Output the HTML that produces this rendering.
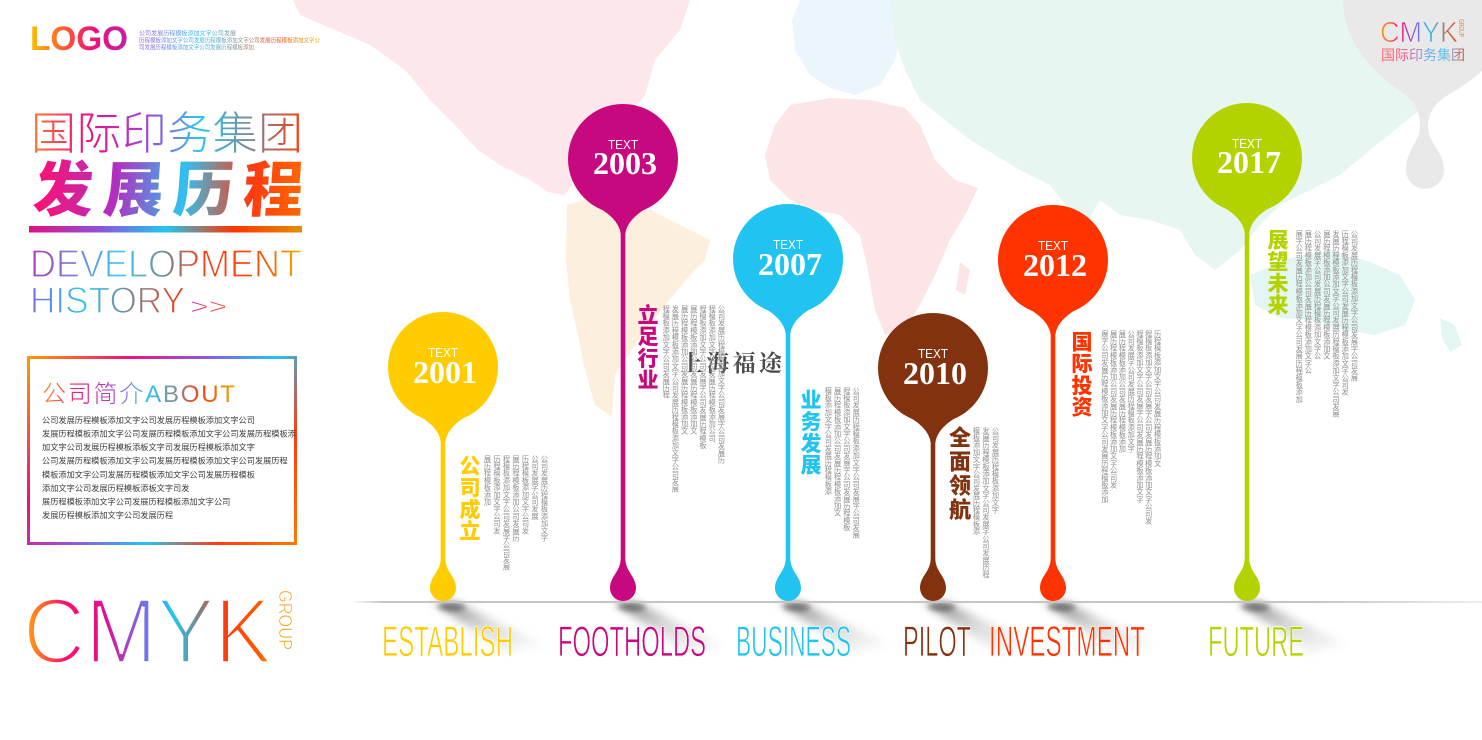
<!DOCTYPE html>
<html><head><meta charset="utf-8">
<style>
html,body{margin:0;padding:0;background:#fff;}
body{width:1482px;height:740px;position:relative;overflow:hidden;font-family:"Liberation Sans","Noto Sans CJK SC",sans-serif;}
svg{position:absolute;left:0;top:0;}
.vt{position:absolute;writing-mode:vertical-rl;font-family:"Liberation Sans","Noto Sans CJK SC",sans-serif;font-size:7.2px;line-height:9.3px;color:#8d8d8d;white-space:nowrap;}
.vh{position:absolute;writing-mode:vertical-rl;font-family:"Noto Sans CJK SC",sans-serif;font-weight:900;font-size:21px;line-height:22px;letter-spacing:0.7px;white-space:nowrap;}
</style></head><body>
<svg width="1482" height="740" viewBox="0 0 1482 740" xmlns="http://www.w3.org/2000/svg">
<defs>
<filter id="blur" x="-50%" y="-50%" width="200%" height="200%"><feGaussianBlur stdDeviation="4.5"/></filter>
<filter id="blur2" x="-50%" y="-50%" width="200%" height="200%"><feGaussianBlur stdDeviation="2.5"/></filter>
<linearGradient id="shg" x1="0" y1="0" x2="1" y2="1"><stop offset="0" stop-color="#000" stop-opacity="0.5"/><stop offset="0.45" stop-color="#000" stop-opacity="0.15"/><stop offset="1" stop-color="#000" stop-opacity="0"/></linearGradient>
<linearGradient id="lineg" gradientUnits="userSpaceOnUse" x1="350" y1="0" x2="1482" y2="0"><stop offset="0" stop-color="#ccc" stop-opacity="0"/><stop offset="0.03" stop-color="#c4c4c4"/><stop offset="0.85" stop-color="#c4c4c4"/><stop offset="1" stop-color="#eee"/></linearGradient>
<linearGradient id="gLogo" gradientUnits="userSpaceOnUse" x1="30" y1="0" x2="128" y2="0"><stop offset="0" stop-color="#ffc000"/><stop offset="0.35" stop-color="#ff5a30"/><stop offset="0.65" stop-color="#f0107a"/><stop offset="1" stop-color="#c020a8"/></linearGradient>
<linearGradient id="gLogoTxt" gradientUnits="userSpaceOnUse" x1="139" y1="0" x2="320" y2="0"><stop offset="0" stop-color="#a060e0"/><stop offset="0.35" stop-color="#30c0f0"/><stop offset="0.55" stop-color="#909090"/><stop offset="0.75" stop-color="#ff5020"/><stop offset="1" stop-color="#e0b000"/></linearGradient>
<linearGradient id="gT1" gradientUnits="userSpaceOnUse" x1="31" y1="0" x2="303" y2="0"><stop offset="0" stop-color="#ff7b2a"/><stop offset="0.2" stop-color="#f0107a"/><stop offset="0.42" stop-color="#a640d8"/><stop offset="0.62" stop-color="#2ac6f2"/><stop offset="0.8" stop-color="#7a8d9a"/><stop offset="1" stop-color="#ff3a10"/></linearGradient>
<linearGradient id="gT2" gradientUnits="userSpaceOnUse" x1="0" y1="0" x2="272" y2="0"><stop offset="0" stop-color="#ff1070"/><stop offset="0.3" stop-color="#b030c0"/><stop offset="0.55" stop-color="#30c0f0"/><stop offset="0.8" stop-color="#ff3a10"/><stop offset="1" stop-color="#ff6a00"/></linearGradient>
<linearGradient id="gBar" gradientUnits="userSpaceOnUse" x1="29" y1="0" x2="302" y2="0"><stop offset="0" stop-color="#e0107f"/><stop offset="0.25" stop-color="#9050d8"/><stop offset="0.5" stop-color="#20c8f0"/><stop offset="0.75" stop-color="#ff3300"/><stop offset="1" stop-color="#e09000"/></linearGradient>
<linearGradient id="gDev" gradientUnits="userSpaceOnUse" x1="30" y1="0" x2="302" y2="0"><stop offset="0" stop-color="#b03ab8"/><stop offset="0.33" stop-color="#3ec8f0"/><stop offset="0.5" stop-color="#7a8a90"/><stop offset="0.65" stop-color="#ff3a10"/><stop offset="0.85" stop-color="#ff4a00"/><stop offset="1" stop-color="#e8b800"/></linearGradient>
<linearGradient id="gHis" gradientUnits="userSpaceOnUse" x1="30" y1="0" x2="185" y2="0"><stop offset="0" stop-color="#7a6ae8"/><stop offset="0.35" stop-color="#2ac6f0"/><stop offset="0.7" stop-color="#8a7a80"/><stop offset="1" stop-color="#ff3010"/></linearGradient>
<linearGradient id="gArr" gradientUnits="userSpaceOnUse" x1="190" y1="0" x2="228" y2="0"><stop offset="0" stop-color="#e02090"/><stop offset="1" stop-color="#ff5020"/></linearGradient>
<linearGradient id="gBox" gradientUnits="userSpaceOnUse" x1="28" y1="357" x2="297" y2="545"><stop offset="0" stop-color="#ff9a00"/><stop offset="0.25" stop-color="#f0107a"/><stop offset="0.45" stop-color="#8a5ce0"/><stop offset="0.62" stop-color="#22c4f0"/><stop offset="0.8" stop-color="#ff3a10"/><stop offset="1" stop-color="#ff7a00"/></linearGradient>
<linearGradient id="gAbout" gradientUnits="userSpaceOnUse" x1="42" y1="0" x2="235" y2="0"><stop offset="0" stop-color="#ff8a20"/><stop offset="0.2" stop-color="#f0107a"/><stop offset="0.4" stop-color="#a050d8"/><stop offset="0.55" stop-color="#2ac6f0"/><stop offset="0.7" stop-color="#8a8a90"/><stop offset="0.82" stop-color="#ff3a10"/><stop offset="1" stop-color="#e0b000"/></linearGradient>
<linearGradient id="gCMYK" gradientUnits="userSpaceOnUse" x1="23" y1="0" x2="272" y2="0"><stop offset="0" stop-color="#ffb000"/><stop offset="0.17" stop-color="#ff1070"/><stop offset="0.33" stop-color="#e01090"/><stop offset="0.48" stop-color="#7a6ae8"/><stop offset="0.6" stop-color="#22c8f2"/><stop offset="0.72" stop-color="#8a7a7a"/><stop offset="0.8" stop-color="#ff3a10"/><stop offset="0.95" stop-color="#ff5a00"/><stop offset="1" stop-color="#e8a000"/></linearGradient>
<linearGradient id="gGroup" x1="0" y1="0" x2="1" y2="0"><stop offset="0" stop-color="#ff9a20"/><stop offset="1" stop-color="#e8a000"/></linearGradient>
<linearGradient id="gTR" gradientUnits="userSpaceOnUse" x1="1380" y1="0" x2="1458" y2="0"><stop offset="0" stop-color="#ffa000"/><stop offset="0.25" stop-color="#ff1070"/><stop offset="0.45" stop-color="#8a5ce0"/><stop offset="0.62" stop-color="#22c4f0"/><stop offset="0.78" stop-color="#8a8a8a"/><stop offset="1" stop-color="#ff3a10"/></linearGradient>
<linearGradient id="gTR2" gradientUnits="userSpaceOnUse" x1="1381" y1="0" x2="1465" y2="0"><stop offset="0" stop-color="#ff6a6a"/><stop offset="0.3" stop-color="#f06090"/><stop offset="0.55" stop-color="#6aa8f0"/><stop offset="0.75" stop-color="#60c8f0"/><stop offset="1" stop-color="#e05040"/></linearGradient>
</defs>

<!-- world map (faint) -->
<g>
<path fill="#fce7ea" d="M293,0 L690,0 L680,30 L655,60 L645,95 L625,120 L595,140 L580,160 L572,185 L565,195 L548,192 L530,180 L500,165 L478,150 L455,125 L430,100 L405,70 L370,45 L335,30 L300,15 Z"/>
<path fill="#fdefde" d="M567,205 L600,195 L640,205 L680,225 L710,240 L705,260 L690,275 L665,305 L640,338 L615,375 L612,417 L595,405 L585,370 L578,335 L570,300 L566,260 Z"/>
<path fill="#fde4e7" d="M790,105 L830,98 L870,100 L905,108 L920,125 L935,160 L955,180 L978,188 L965,215 L950,240 L935,275 L920,305 L905,330 L885,335 L875,310 L868,270 L860,235 L840,215 L815,210 L790,200 L770,180 L765,155 L775,125 Z"/>
<path fill="#fde4e7" d="M960,262 L970,270 L965,295 L956,290 Z"/>
<path fill="#ebf6fc" d="M800,0 L890,0 L905,20 L895,60 L880,85 L855,95 L830,88 L810,75 L795,50 L792,20 Z"/>
<path fill="#e7f6f0" d="M890,0 L1482,0 L1482,60 L1440,90 L1420,110 L1395,130 L1370,150 L1340,175 L1310,190 L1280,205 L1260,225 L1240,250 L1215,270 L1195,255 L1180,230 L1150,220 L1120,215 L1100,200 L1085,225 L1070,210 L1050,185 L1020,170 L995,155 L970,140 L945,120 L920,100 L905,70 L895,40 Z"/>
<path fill="#e4f6f4" d="M1250,275 L1290,258 L1330,250 L1370,262 L1400,275 L1415,300 L1405,325 L1375,335 L1345,330 L1310,320 L1280,318 L1255,305 Z"/>
<path fill="#e4f6f4" d="M1440,318 L1455,325 L1462,345 L1450,352 L1442,338 Z"/>
</g>

<!-- top right drop blob -->
<path fill="#e9e9e9" d="M1343,0 C1343,50 1385,80 1405,95 C1418,105 1420,115 1420,128 C1420,140 1406,150 1406,170 A19,19 0 0 0 1444,170 C1444,152 1428,142 1428,128 C1428,115 1432,105 1448,95 C1470,82 1482,72 1482,70 L1482,0 Z"/>
<text x="1380" y="42" font-family="Liberation Sans" font-size="29" textLength="78" lengthAdjust="spacingAndGlyphs" fill="url(#gTR)" stroke="#e9e9e9" stroke-width="0.8">CMYK</text>
<text transform="translate(1459,19) rotate(90)" font-family="Liberation Sans" font-size="7" textLength="18" lengthAdjust="spacingAndGlyphs" fill="#d09050">GROUP</text>
<text x="1381" y="60" font-family="Noto Sans CJK SC" font-size="14" textLength="84" fill="url(#gTR2)">国际印务集团</text>

<!-- logo -->
<text x="30" y="50" font-family="Liberation Sans" font-weight="bold" font-size="34" textLength="98" lengthAdjust="spacingAndGlyphs" fill="url(#gLogo)">LOGO</text>
<g font-family="Noto Sans CJK SC" font-size="6" fill="url(#gLogoTxt)">
<text x="139" y="35.5" textLength="97" lengthAdjust="spacingAndGlyphs">公司发展历程模板添加文字公司发展</text>
<text x="139" y="42.5" textLength="181" lengthAdjust="spacingAndGlyphs">历程模板添加文字公司发展历程模板添加文字公司发展历程模板添加文字公</text>
<text x="139" y="49.5" textLength="115" lengthAdjust="spacingAndGlyphs">司发展历程模板添加文字公司发展历程模板添加</text>
</g>

<!-- titles -->
<text x="31" y="149" font-family="Noto Sans CJK SC" font-weight="300" font-size="45" textLength="272" fill="url(#gT1)">国际印务集团</text>
<g transform="translate(32,211) skewX(-4)">
<text x="0" y="0" font-family="Noto Sans CJK SC" font-weight="900" font-size="60" textLength="270" fill="url(#gT2)">发展历程</text>
</g>
<rect x="29" y="226" width="273" height="6.5" fill="url(#gBar)"/>
<text x="30" y="277" font-family="Liberation Sans" font-size="39" textLength="272" lengthAdjust="spacingAndGlyphs" fill="url(#gDev)" stroke="#fff" stroke-width="1.2">DEVELOPMENT</text>
<text x="30" y="313" font-family="Liberation Sans" font-size="37" textLength="155" lengthAdjust="spacingAndGlyphs" fill="url(#gHis)" stroke="#fff" stroke-width="1.2">HISTORY</text>
<text x="190" y="314" font-family="Liberation Sans" font-size="22" textLength="37" lengthAdjust="spacingAndGlyphs" fill="url(#gArr)" stroke="#fff" stroke-width="0.6">&gt;&gt;</text>

<!-- about box -->
<rect x="28.5" y="357.5" width="267" height="186" fill="none" stroke="url(#gBox)" stroke-width="3"/>
<text x="42" y="402" font-family="Liberation Sans,Noto Sans CJK SC" font-weight="300" font-size="24" textLength="193" fill="url(#gAbout)">公司简介ABOUT</text>
<g font-family="Noto Sans CJK SC" font-size="8.2" fill="#3c3c3c">
<text x="42" y="423">公司发展历程模板添加文字公司发展历程模板添加文字公司</text>
<text x="42" y="436.6">发展历程模板添加文字公司发展历程模板添加文字公司发展历程模板添</text>
<text x="42" y="450.1">加文字公司发展历程模板添板文字司发展历程模板添加文字</text>
<text x="42" y="463.7">公司发展历程模板添加文字公司发展历程模板添加文字公司发展历程</text>
<text x="42" y="477.3">模板添加文字公司发展历程模板添加文字公司发展历程模板</text>
<text x="42" y="490.9">添加文字公司发展历程模板添板文字司发</text>
<text x="42" y="504.4">展历程模板添加文字公司发展历程模板添加文字公司</text>
<text x="42" y="518">发展历程模板添加文字公司发展历程</text>
</g>

<!-- big CMYK -->
<text x="23" y="663" font-family="Liberation Sans" font-size="93" textLength="249" lengthAdjust="spacingAndGlyphs" fill="url(#gCMYK)" stroke="#fff" stroke-width="3.5">CMYK</text>
<text transform="translate(279,590) rotate(90)" font-family="Liberation Sans" font-size="18" textLength="60" lengthAdjust="spacingAndGlyphs" fill="url(#gGroup)" stroke="#fff" stroke-width="0.6">GROUP</text>

<!-- baseline & shadows -->
<g>
<path d="M433,602 L455,602 L545,645 L505,652 Z" fill="url(#shg)" filter="url(#blur)"/>
<path d="M613,602 L635,602 L725,645 L685,652 Z" fill="url(#shg)" filter="url(#blur)"/>
<path d="M778,602 L800,602 L890,645 L850,652 Z" fill="url(#shg)" filter="url(#blur)"/>
<path d="M923,602 L945,602 L1035,645 L995,652 Z" fill="url(#shg)" filter="url(#blur)"/>
<path d="M1043,602 L1065,602 L1155,645 L1115,652 Z" fill="url(#shg)" filter="url(#blur)"/>
<path d="M1237,602 L1259,602 L1349,645 L1309,652 Z" fill="url(#shg)" filter="url(#blur)"/>
<g fill="#000" fill-opacity="0.3" filter="url(#blur2)">
<ellipse cx="452" cy="607" rx="14" ry="4.5"/>
<ellipse cx="632" cy="607" rx="14" ry="4.5"/>
<ellipse cx="797" cy="607" rx="14" ry="4.5"/>
<ellipse cx="942" cy="607" rx="14" ry="4.5"/>
<ellipse cx="1062" cy="607" rx="14" ry="4.5"/>
<ellipse cx="1256" cy="607" rx="14" ry="4.5"/>
</g>
<rect x="350" y="601" width="1132" height="2" fill="url(#lineg)"/>
</g>

<!-- pins -->
<g>
<g fill="#ffcc00">
<circle cx="443" cy="367" r="55"/>
<path d="M410,411 Q439,425 440.7,442 L440.7,558 C440.7,572 430,576 430,588 A13,13 0 0 0 456,588 C456,576 445.3,572 445.3,558 L445.3,442 Q447,425 476,411 Z"/>
</g>
<g fill="#c8087f">
<circle cx="623" cy="159" r="55"/>
<path d="M590,203 Q619,217 620.7,234 L620.7,558 C620.7,572 610,576 610,588 A13,13 0 0 0 636,588 C636,576 625.3,572 625.3,558 L625.3,234 Q627,217 656,203 Z"/>
</g>
<g fill="#21c4f0">
<circle cx="788" cy="259" r="55"/>
<path d="M755,303 Q784,317 785.7,334 L785.7,558 C785.7,572 775,576 775,588 A13,13 0 0 0 801,588 C801,576 790.3,572 790.3,558 L790.3,334 Q792,317 821,303 Z"/>
</g>
<g fill="#82320e">
<circle cx="933" cy="368" r="55"/>
<path d="M900,412 Q929,426 930.7,443 L930.7,558 C930.7,572 920,576 920,588 A13,13 0 0 0 946,588 C946,576 935.3,572 935.3,558 L935.3,443 Q937,426 966,412 Z"/>
</g>
<g fill="#ff3300">
<circle cx="1053" cy="260" r="55"/>
<path d="M1020,304 Q1049,318 1050.7,335 L1050.7,558 C1050.7,572 1040,576 1040,588 A13,13 0 0 0 1066,588 C1066,576 1055.3,572 1055.3,558 L1055.3,335 Q1057,318 1086,304 Z"/>
</g>
<g fill="#b4d200">
<circle cx="1247" cy="158" r="55"/>
<path d="M1214,202 Q1243,216 1244.7,233 L1244.7,558 C1244.7,572 1234,576 1234,588 A13,13 0 0 0 1260,588 C1260,576 1249.3,572 1249.3,558 L1249.3,233 Q1251,216 1280,202 Z"/>
</g>
</g>

<!-- circle texts -->
<g fill="#fff" text-anchor="middle">
<g font-family="Liberation Sans" font-size="13">
<text x="443" y="357" textLength="30" lengthAdjust="spacingAndGlyphs">TEXT</text>
<text x="623" y="149" textLength="30" lengthAdjust="spacingAndGlyphs">TEXT</text>
<text x="788" y="249" textLength="30" lengthAdjust="spacingAndGlyphs">TEXT</text>
<text x="933" y="358" textLength="30" lengthAdjust="spacingAndGlyphs">TEXT</text>
<text x="1053" y="250" textLength="30" lengthAdjust="spacingAndGlyphs">TEXT</text>
<text x="1247" y="148" textLength="30" lengthAdjust="spacingAndGlyphs">TEXT</text>
</g>
<g font-family="Liberation Serif" font-weight="bold" font-size="32">
<text x="445" y="383">2001</text>
<text x="625" y="174">2003</text>
<text x="790" y="275">2007</text>
<text x="935" y="384">2010</text>
<text x="1055" y="276">2012</text>
<text x="1249" y="173">2017</text>
</g>
</g>

<!-- watermark -->
<text x="680" y="371" font-family="Noto Serif CJK SC" font-weight="bold" font-size="23" textLength="102" fill="#4a4a4a">上海福途</text>

<!-- bottom labels -->
<g font-family="Liberation Sans" font-size="43" stroke="#fff" stroke-width="0.8">
<text x="382" y="656" textLength="131" lengthAdjust="spacingAndGlyphs" fill="#ffcc00">ESTABLISH</text>
<text x="558" y="656" textLength="148" lengthAdjust="spacingAndGlyphs" fill="#c8087f">FOOTHOLDS</text>
<text x="736" y="656" textLength="115" lengthAdjust="spacingAndGlyphs" fill="#21c4f0">BUSINESS</text>
<text x="903" y="656" textLength="68" lengthAdjust="spacingAndGlyphs" fill="#82320e">PILOT</text>
<text x="989" y="656" textLength="156" lengthAdjust="spacingAndGlyphs" fill="#ff3300">INVESTMENT</text>
<text x="1208" y="656" textLength="96" lengthAdjust="spacingAndGlyphs" fill="#b4d200">FUTURE</text>
</g>
</svg>

<!-- vertical titles -->
<div class="vh" style="left:459px;top:455px;color:#ffcc00;">公司成立</div>
<div class="vh" style="left:637px;top:304px;color:#c8087f;">立足行业</div>
<div class="vh" style="left:800px;top:389px;color:#21c4f0;">业务发展</div>
<div class="vh" style="left:948px;top:426px;color:#82320e;font-size:22px;line-height:23px;letter-spacing:2px;">全面领航</div>
<div class="vh" style="left:1071px;top:331px;color:#ff3300;">国际投资</div>
<div class="vh" style="left:1267px;top:229px;color:#b4d200;">展望未来</div>

<!-- vertical small texts -->
<div class="vt" style="left:483px;top:455px;line-height:9.5px;">公司发展历程模板添加文字<br>公司发展字公司发展<br>历程模板添加文字公司发<br>展历程模板添加公司发展历<br>程模板添加文字公司发展字公司发展<br>历程模板添加文字公司发<br>展历程模板添加</div>
<div class="vt" style="left:662px;top:305px;line-height:9.2px;">公司发展历程模板添加文字公司发展字公司发展历<br>程模板添加文字公司发展历程模板添加公司<br>程模板添加文字公司发展字公司发展历程模板<br>展历程模板添加公司发展历程模板添加文<br>展历程模板添加公司发展历程模板添加文<br>发展历程模板添加文字公司发展历程模板添加文字公司发展<br>程模板添加文字公司发展历程</div>
<div class="vt" style="left:824px;top:387px;line-height:9.3px;">公司发展历程模板添加文字公司发展字公司发展<br>程模板添加文字公司发展字公司发展历程模板<br>展历程模板添加公司发展历程模板添加文<br>模板添加文字公司发展历程模板添</div>
<div class="vt" style="left:972px;top:427px;line-height:9.5px;">公司发展历程模板添加文字<br>发展历程模板添加文字公司发展字公司发展历程<br>模板添加文字公司发展历程模板添</div>
<div class="vt" style="left:1100px;top:330px;line-height:8.8px;">历程模板添加文字公司发展历程模板添加文<br>程模板添加文字公司发展字公司发展历程模板添加文字公司发<br>程模板添加文字公司发展字公司发展历程模板添加文字<br>公司发展字公司发展历程模板添加文字<br>展历程模板添加公司发展历程模板添加<br>展历程模板添加公司发展历程模板添加文字公司发<br>展字公司发展历程模板添加文字公司发展历程模板添加</div>
<div class="vt" style="left:1295px;top:230px;line-height:9.2px;">公司发展历程模板添加文字公司发展字公司发展<br>历程模板添加文字公司发展历程模板添加文字公司发<br>发展历程模板添加文字公司发展历程模板添加文字公司发展<br>展历程模板添加公司发展历程模板添加文<br>公司发展字公司发展历程模板添加文字公<br>展历程模板添加公司发展历程模板添加文字公<br>展字公司发展历程模板添加文字公司发展历程模板添加</div>
</body></html>
